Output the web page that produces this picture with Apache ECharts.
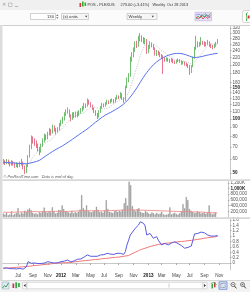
<!DOCTYPE html>
<html><head><meta charset="utf-8">
<script src="https://cdn.jsdelivr.net/npm/echarts@6/dist/echarts.min.js"></script>
<style>html,body{margin:0;padding:0;background:#fff;overflow:hidden}#c{width:250px;height:292px}</style>
</head><body><div id="c"></div><script>
// ---- data (weekly, first week = 2011-05-02) ----
const startDate = '2011-05-02';
const padWeeks = 7;
const open = [57,58,57,58.5,57,56,57.5,56,55,56,55,56.5,57,54,51,55,62,70,78,76,74,72,69,66,72,76,80,78,83,86,84,90,87,85,88,93,96,100,106,110,112,104,100,107,103,108,105,109,112,115,120,118,127,122,118,115,110,106,103,110,116,120,118,122,125,123,126,127,124,130,133,131,138,130,127,150,165,175,215,225,240,262,255,275,285,278,270,275,235,250,262,255,248,228,238,232,226,222,215,212,216,213,210,214,208,206,210,213,209,205,207,203,201,198,182,196,218,245,265,258,262,268,265,258,262,266,258,255,250,256,264];
const close = [58,57,58.5,57,56,57.5,56,55,56,55,56.5,57,54,51,55,62,70,78,76,74,72,69,66,72,76,80,78,83,86,84,90,87,85,88,93,96,100,106,110,112,104,100,107,103,108,105,109,112,115,120,118,127,122,118,115,110,106,103,110,116,120,118,122,125,123,126,127,124,130,133,131,138,130,127,150,165,175,215,225,240,262,255,275,285,278,270,275,235,250,262,255,248,228,238,232,226,222,215,212,216,213,210,214,208,206,210,213,209,205,207,203,201,198,182,196,218,245,265,258,262,268,265,258,262,266,258,255,250,256,264,273];
const low = [56,55.5,56,56,54.5,55,55,53.5,54,53.5,54,55,52.5,49.5,50,54,61,68,73,71,69,66,63,65,70,74,76,77,81,81,83,85,82,84,86,91,94,98,104,107,102,97,99,101,102,102,104,107,110,113,115,117,120,116,112,108,104,100,102,108,114,116,117,120,121,122,124,122,123,128,129,130,128,123,126,148,160,172,208,220,236,248,252,270,268,262,260,230,232,245,250,242,225,224,226,220,216,178,208,209,208,205,207,204,202,203,207,205,200,201,198,196,192,176,180,194,216,242,250,252,256,258,252,253,258,252,248,244,247,252,262];
const high = [60,59,60,59.5,58,59,58.5,57,57.5,57,58,60,58,55,56,63,72,81,80,78,76,73,70,73,78,83,82,85,89,88,93,92,89,90,95,99,103,109,113,116,113,106,109,109,110,110,112,115,118,123,122,130,128,124,120,116,112,108,112,118,123,122,124,128,127,129,130,129,132,136,135,141,139,132,153,170,180,222,235,250,270,272,290,300,292,285,282,278,258,270,266,260,250,242,240,236,230,226,220,220,219,216,218,216,211,213,217,215,212,210,209,206,203,200,199,222,252,290,270,268,285,272,270,268,275,270,262,258,262,268,278];
const ma30 = [57.5,57.4,57.3,57.2,57.1,57.0,57.0,56.9,56.8,56.7,56.6,56.6,56.5,56.4,56.4,56.5,56.8,57.1,57.4,57.7,58.0,58.5,59.0,59.8,60.7,61.6,62.5,63.4,64.3,65.2,66.1,67.0,67.8,68.6,69.4,70.2,71.0,72.0,73.0,74.0,75.0,76.0,77.2,78.4,79.6,80.8,82.0,83.2,84.4,85.6,86.8,88.0,89.6,91.2,92.8,94.4,96.0,97.6,99.2,100.8,102.4,104.0,105.2,106.4,107.6,108.8,110.0,111.4,112.8,114.2,115.6,117.0,119.0,121.0,123.5,126.0,129.0,132.5,136.0,140.0,144.5,149.0,154.0,159.5,165.0,170.5,176.0,181.0,186.0,191.0,195.5,200.0,204.0,207.5,211.0,214.0,217.0,219.5,222.0,224.0,226.0,227.5,229.0,230.0,231.0,231.5,231.8,231.5,230.8,229.8,228.5,227.0,225.5,223.5,221.5,220.0,219.5,219.8,220.3,221.0,222.0,223.0,224.0,225.5,226.5,227.5,228.5,229.5,230.3,231.0,231.63];
const ma10 = [57.5,57.4,57.4,57.3,57.2,57.0,56.9,56.8,56.7,56.6,56.45,56.45,56.0,55.4,55.3,55.75,57.15,59.45,61.45,63.35,64.9,66.1,67.3,69.4,71.5,73.3,74.1,74.6,75.6,76.6,78.4,80.2,82.1,83.7,85.4,87.0,89.2,91.5,93.9,96.7,98.1,99.4,101.6,103.1,104.6,105.5,106.4,107.0,107.5,108.3,109.7,112.4,113.9,115.4,116.1,116.6,116.3,115.4,114.9,114.5,114.7,113.8,113.8,114.5,115.3,116.9,119.0,121.1,123.1,124.8,125.9,127.9,128.7,128.9,131.6,135.5,140.3,149.4,158.9,169.6,182.7,194.4,208.9,224.7,237.5,248.0,258.0,260.0,262.5,264.7,264.0,263.3,258.6,253.9,249.3,244.9,239.6,237.6,233.8,229.2,225.0,221.2,219.8,216.8,214.2,212.6,211.7,211.1,210.4,209.5,208.5,207.6,206.0,203.4,202.4,203.2,206.4,212.0,217.3,222.8,229.3,235.7,241.7,249.7,256.7,260.7,261.7,260.2,260.0,260.2,260.7];
// volume in thousands of shares
const volumeK = [120,80,150,60,90,200,70,110,140,310,90,160,120,220,180,260,300,240,150,110,130,90,170,140,210,330,180,150,200,160,340,190,120,150,250,230,410,280,200,180,160,140,220,130,170,150,190,260,770,310,240,410,220,180,160,200,230,360,250,170,190,150,230,590,280,180,160,140,200,240,180,220,190,260,480,660,400,1240,1120,380,250,200,280,310,180,150,140,210,170,120,110,160,130,90,150,100,120,180,90,70,80,110,340,90,120,150,100,80,130,200,450,300,700,590,280,220,180,130,150,200,170,120,140,160,110,150,410,130,90,120,160];
const volMaK = [170,168,166,165,165,166,168,170,172,175,176,178,180,182,184,186,188,190,190,189,188,187,186,186,187,188,190,192,194,196,198,200,200,199,198,197,196,195,195,196,198,200,202,205,208,212,215,218,220,222,222,222,221,220,219,218,217,216,215,215,216,217,218,220,222,224,226,228,230,232,234,236,238,240,242,244,246,248,250,250,249,248,246,244,242,240,238,236,234,232,230,228,226,224,222,220,218,216,214,212,210,208,206,204,202,200,198,196,194,192,190,188,186,184,182,181,180,179,178,176,174,172,170,166,162,158,155,152,150,148,146,145];
const indBlue = [-0.19,-0.20,-0.18,-0.20,-0.21,-0.19,-0.21,-0.22,-0.22,-0.21,-0.20,-0.21,-0.23,-0.23,-0.14,0.05,0.04,-0.01,0.02,0.00,0.01,-0.02,-0.04,-0.02,-0.05,0.00,0.03,0.05,0.05,0.02,0.04,0.00,-0.01,0.01,0.03,0.05,0.03,0.07,0.10,0.11,0.06,0.04,0.05,0.08,0.10,0.14,0.12,0.15,0.18,0.22,0.25,0.30,0.27,0.25,0.23,0.25,0.27,0.25,0.28,0.30,0.32,0.31,0.34,0.36,0.34,0.33,0.35,0.32,0.34,0.36,0.35,0.36,0.33,0.32,0.42,0.67,0.85,1.04,1.12,1.08,1.29,1.26,1.41,1.53,1.50,1.48,1.38,1.04,1.08,1.10,1.08,0.92,0.97,0.98,0.85,0.80,0.67,0.65,0.73,0.71,0.67,0.71,0.74,0.77,0.79,0.76,0.72,0.67,0.65,0.61,0.55,0.52,0.58,0.51,0.63,0.85,1.08,1.12,1.10,1.13,1.15,1.16,1.12,1.08,1.04,1.02,1.00,0.99,1.00,0.98,1.0217];
const indRed = [-0.20,-0.20,-0.19,-0.19,-0.18,-0.18,-0.17,-0.17,-0.16,-0.16,-0.15,-0.15,-0.14,-0.14,-0.13,-0.13,-0.12,-0.11,-0.10,-0.10,-0.09,-0.08,-0.08,-0.07,-0.06,-0.06,-0.05,-0.04,-0.04,-0.03,-0.02,-0.02,-0.01,0.00,0.00,0.01,0.01,0.01,0.01,0.01,0.02,0.03,0.03,0.04,0.05,0.06,0.06,0.07,0.08,0.08,0.09,0.10,0.10,0.11,0.12,0.12,0.13,0.14,0.14,0.15,0.16,0.16,0.17,0.18,0.18,0.19,0.20,0.20,0.21,0.22,0.22,0.23,0.24,0.25,0.26,0.27,0.28,0.31,0.34,0.37,0.40,0.43,0.46,0.49,0.51,0.53,0.55,0.57,0.59,0.61,0.63,0.65,0.66,0.67,0.69,0.70,0.71,0.72,0.73,0.74,0.74,0.75,0.76,0.77,0.77,0.78,0.79,0.79,0.80,0.81,0.81,0.82,0.83,0.83,0.84,0.85,0.86,0.87,0.88,0.89,0.90,0.91,0.92,0.93,0.94,0.95,0.96,0.97,0.97,0.98,0.99];
const priceTicks = [50,60,70,80,90,100,110,120,130,140,150,160,180,200,220,240,260,280,300,320];
const volTicksK = [200,400,600,800,1000,1200];
const indTicks = [0,0.2,0.4,0.6,0.8,1,1.2,1.4,1.6];
const monthNames = ['Jan','Feb','Mar','Apr','May','Jun','Jul','Aug','Sep','Oct','Nov','Dec'];
const symbolName = 'POS - PLEXUS';
const periodName = 'Weekly';
const unitsCount = '130';

// ---- build ----
function buildWeeks(start, n) {
  const out = []; const t0 = Date.parse(start + 'T00:00:00Z');
  for (let i = 0; i < n; i++) out.push(new Date(t0 + i * 7 * 86400000).toISOString().slice(0, 10));
  return out;
}
const weeks = buildWeeks(startDate, close.length + padWeeks);
const ohlc = open.map((o, i) => [o, close[i], low[i], high[i]]);
const lastClose = close[close.length - 1];
const prevClose = close[close.length - 2];
const pct = ((lastClose / prevClose - 1) * 100).toFixed(2);
const lastDate = new Date(weeks[close.length - 1] + 'T00:00:00Z');
const dateText = monthNames[lastDate.getUTCMonth()] + ' ' + lastDate.getUTCDate() + ' ' + lastDate.getUTCFullYear();

const FONT = 'Arial';
const LBL = 4.6;
const TF = '3.9px ' + FONT;
const isLabelWeek = (idx, val) => { if (idx < 2) return false; const m = +val.slice(5, 7), d = +val.slice(8, 10); return d <= 7 && m % 2 === 1; };

function xAxisFor(g, show) {
  return {
    type: 'category', gridIndex: g, data: weeks, boundaryGap: true,
    axisLine: { show: show, lineStyle: { color: '#c8c8c8', width: 1 } },
    axisTick: { show: show, interval: isLabelWeek, alignWithLabel: true, length: 2, lineStyle: { color: '#aaa' } },
    axisLabel: {
      show: show, interval: isLabelWeek, margin: 3, fontSize: LBL, fontFamily: FONT, color: '#444',
      formatter: v => { const m = +v.slice(5, 7); return m === 1 ? '{y|' + v.slice(0, 4) + '}' : monthNames[m - 1]; },
      rich: { y: { fontSize: LBL, fontFamily: FONT, fontWeight: 'bold', color: '#111' } }
    },
    splitLine: { show: false }
  };
}
function yAxisBase(g) {
  return {
    gridIndex: g, position: 'right',
    axisLine: { show: true, lineStyle: { color: '#c8c8c8', width: 1 } },
    axisTick: { show: true, length: 1.5, lineStyle: { color: '#aaa' } },
    splitLine: { show: false },
    axisLabel: { margin: 2.5, fontSize: LBL, fontFamily: FONT, color: '#555' }
  };
}
const yPrice = yAxisBase(0);
Object.assign(yPrice, { type: 'log', logBase: 10, min: 46.4, max: 328.6 });
yPrice.axisTick.customValues = priceTicks;
Object.assign(yPrice.axisLabel, {
  customValues: priceTicks,
  formatter: v => (v === 50 || v === 100 || v === 150) ? '{b|' + v + '}' : String(v),
  rich: { b: { fontSize: LBL, fontFamily: FONT, fontWeight: 'bold', color: '#222' } }
});
const yVol = yAxisBase(1);
Object.assign(yVol, { type: 'value', min: 0, max: 1265 });
yVol.axisTick.customValues = volTicksK;
Object.assign(yVol.axisLabel, {
  customValues: volTicksK,
  formatter: v => v >= 1000 ? (v === 1000 ? '{b|' : '') + (v).toLocaleString('en-US') + 'K' + (v === 1000 ? '}' : '') : (v * 1000).toLocaleString('en-US'),
  rich: { b: { fontSize: LBL, fontFamily: FONT, fontWeight: 'bold', color: '#222' } }
});
const yInd = yAxisBase(2);
Object.assign(yInd, { type: 'value', min: -0.26, max: 1.636 });
yInd.axisTick.customValues = indTicks;
Object.assign(yInd.axisLabel, { customValues: indTicks, formatter: v => String(v) });

function endLabel(val, text, color, bg) {
  return {
    silent: true, symbol: 'none', animation: false,
    lineStyle: { opacity: 0 },
    label: { show: true, position: 'end', distance: 1.5, formatter: text, color: color, backgroundColor: bg,
      fontSize: LBL, fontFamily: FONT, padding: [0.5, 1.5, 0, 1.5] },
    data: [{ yAxis: val }]
  };
}

const W = 250;
const chrome = [
  { type: 'rect', shape: { x: 0, y: 0, width: W, height: 10 }, style: { fill: '#f0f0f0' }, z: 10 },
  { type: 'rect', shape: { x: 0, y: 10, width: W, height: 15 }, style: { fill: '#fbfbfb' }, z: 10 },
  { type: 'line', shape: { x1: 0, y1: 25.5, x2: W, y2: 25.5 }, style: { stroke: '#cfcfcf', lineWidth: 1 }, z: 10 },
  { type: 'rect', shape: { x: 0, y: 25, width: 2.5, height: 255 }, style: { fill: '#dcdcdc' }, z: 10 },
  { type: 'text', x: 4, y: 5, style: { text: '✕', fill: '#999', font: '4.5px ' + FONT, align: 'center', verticalAlign: 'middle' }, z: 11 },
  { type: 'rect', shape: { x: 8.5, y: 3, width: 3.5, height: 3.5 }, style: { fill: 'none', stroke: '#aaa', lineWidth: 0.6 }, z: 11 },
  { type: 'line', shape: { x1: 15, y1: 6.5, x2: 18, y2: 6.5 }, style: { stroke: '#999', lineWidth: 0.7 }, z: 11 },
  { type: 'rect', shape: { x: 79.5, y: 3, width: 1.6, height: 4 }, style: { fill: '#e03040' }, z: 11 },
  { type: 'rect', shape: { x: 82, y: 1.5, width: 1.6, height: 5 }, style: { fill: '#30b030' }, z: 11 },
  { type: 'rect', shape: { x: 84.5, y: 2.5, width: 1.6, height: 3.5 }, style: { fill: '#30b030' }, z: 11 },
  { type: 'text', x: 87.5, y: 5, style: { text: symbolName, fill: '#333', font: TF, align: 'left', verticalAlign: 'middle' }, z: 11 },
  { type: 'text', x: 120.5, y: 5, style: { text: lastClose.toFixed(2) + ' (+' + pct + '%)', fill: '#333', font: TF, align: 'left', verticalAlign: 'middle' }, z: 11 },
  { type: 'text', x: 152.5, y: 5, style: { text: periodName, fill: '#333', font: TF, align: 'left', verticalAlign: 'middle' }, z: 11 },
  { type: 'text', x: 167, y: 5, style: { text: dateText, fill: '#333', font: TF, align: 'left', verticalAlign: 'middle' }, z: 11 },
  // units input
  { type: 'rect', shape: { x: 30.5, y: 13.5, width: 25, height: 6 }, style: { fill: '#fff', stroke: '#b5b5b5', lineWidth: 0.6 }, z: 11 },
  { type: 'text', x: 54, y: 16.6, style: { text: unitsCount, fill: '#333', font: '4.2px ' + FONT, align: 'right', verticalAlign: 'middle' }, z: 11 },
  { type: 'polygon', shape: { points: [[56.3, 16], [58.3, 16], [57.3, 14.3]] }, style: { fill: '#666' }, z: 11 },
  { type: 'polygon', shape: { points: [[56.3, 17.2], [58.3, 17.2], [57.3, 18.9]] }, style: { fill: '#666' }, z: 11 },
  { type: 'rect', shape: { x: 61.5, y: 13.5, width: 27, height: 6 }, style: { fill: '#f6f6f6', stroke: '#b5b5b5', lineWidth: 0.6 }, z: 11 },
  { type: 'text', x: 63, y: 16.6, style: { text: '(x) units', fill: '#333', font: '4.2px ' + FONT, align: 'left', verticalAlign: 'middle' }, z: 11 },
  { type: 'polygon', shape: { points: [[85, 15.8], [87.4, 15.8], [86.2, 17.4]] }, style: { fill: '#444' }, z: 11 },
  { type: 'rect', shape: { x: 127, y: 13.5, width: 30, height: 6 }, style: { fill: '#f6f6f6', stroke: '#b5b5b5', lineWidth: 0.6 }, z: 11 },
  { type: 'text', x: 128.5, y: 16.6, style: { text: periodName, fill: '#333', font: '4.2px ' + FONT, align: 'left', verticalAlign: 'middle' }, z: 11 },
  { type: 'polygon', shape: { points: [[151.6, 15.8], [154, 15.8], [152.8, 17.4]] }, style: { fill: '#444' }, z: 11 },
  // chart-style icon
  { type: 'rect', shape: { x: 195, y: 12.3, width: 16.5, height: 8.5 }, style: { fill: '#e6e0f4', stroke: '#b9aede', lineWidth: 0.6 }, z: 11 },
  { type: 'polyline', shape: { points: [[196, 19], [198, 16], [200, 18], [202, 14.5], [204, 17], [206, 15], [208, 16.5], [210.5, 13.5]] }, style: { stroke: '#33aa33', lineWidth: 0.8, fill: 'none' }, z: 12 },
  { type: 'polyline', shape: { points: [[196, 17], [198.5, 19], [201, 16], [203, 19], [205.5, 16.5], [208, 18.5], [210.5, 15.5]] }, style: { stroke: '#dd3355', lineWidth: 0.8, fill: 'none' }, z: 12 },
  { type: 'polyline', shape: { points: [[196, 15], [199, 14], [202, 16.5], [205, 13.5], [210.5, 17.5]] }, style: { stroke: '#5566dd', lineWidth: 0.6, fill: 'none' }, z: 12 },
  // far right icon
  { type: 'rect', shape: { x: 242.5, y: 10.5, width: 9, height: 12, r: 2 }, style: { fill: '#fff', stroke: '#bbb', lineWidth: 0.6 }, z: 11 },
  { type: 'polyline', shape: { points: [[246.5, 21], [247, 17], [246.3, 14], [247.5, 12.5]] }, style: { stroke: '#33aa33', lineWidth: 1, fill: 'none' }, z: 12 },
  { type: 'rect', shape: { x: 248, y: 15.5, width: 1.6, height: 3 }, style: { fill: '#dd3344' }, z: 12 },
  // panel separators
  { type: 'rect', shape: { x: 2.5, y: 179.3, width: 247.5, height: 1.6 }, style: { fill: '#d7d7d7' }, z: 10 },
  { type: 'rect', shape: { x: 2.5, y: 217.3, width: 247.5, height: 1.6 }, style: { fill: '#d7d7d7' }, z: 10 },
  { type: 'text', x: 3.5, y: 176.8, style: { text: '© ProRealTime.com   Data is end of day', fill: '#555', font: 'italic 3.9px ' + FONT, align: 'left', verticalAlign: 'middle' }, z: 11 },
  // bottom toolbar
  { type: 'rect', shape: { x: 0, y: 280, width: W, height: 12 }, style: { fill: '#f3f3f3' }, z: 10 },
  { type: 'line', shape: { x1: 0, y1: 280.5, x2: W, y2: 280.5 }, style: { stroke: '#d0d0d0', lineWidth: 0.8 }, z: 10 },
  { type: 'rect', shape: { x: 2, y: 282, width: 7, height: 7 }, style: { fill: '#dfe9f7', stroke: '#8aa', lineWidth: 0.5 }, z: 11 },
  { type: 'polyline', shape: { points: [[2.5, 288], [4.5, 285.5], [6, 287], [8.5, 283]] }, style: { stroke: '#2a9a3a', lineWidth: 0.9, fill: 'none' }, z: 12 },
  { type: 'rect', shape: { x: 12.5, y: 283.5, width: 1.7, height: 4.5 }, style: { fill: '#cc3344' }, z: 11 },
  { type: 'rect', shape: { x: 15.3, y: 282.3, width: 1.7, height: 6 }, style: { fill: '#33aa44' }, z: 11 },
  { type: 'rect', shape: { x: 18.1, y: 283, width: 1.7, height: 4 }, style: { fill: '#33aa44' }, z: 11 },
  { type: 'rect', shape: { x: 22.5, y: 282.3, width: 4, height: 6.5 }, style: { fill: '#fff', stroke: '#bbb', lineWidth: 0.5 }, z: 11 },
  { type: 'polygon', shape: { points: [[25.6, 284], [25.6, 287], [23.6, 285.5]] }, style: { fill: '#333' }, z: 12 },
  { type: 'rect', shape: { x: 27, y: 282.3, width: 176, height: 6.5 }, style: { fill: '#fff', stroke: '#c4c4c4', lineWidth: 0.6 }, z: 11 },
  { type: 'line', shape: { x1: 168.5, y1: 283.5, x2: 168.5, y2: 287.6 }, style: { stroke: '#ccc', lineWidth: 0.5 }, z: 12 },
  { type: 'line', shape: { x1: 169.5, y1: 283.5, x2: 169.5, y2: 287.6 }, style: { stroke: '#ccc', lineWidth: 0.5 }, z: 12 },
  { type: 'rect', shape: { x: 203, y: 282.3, width: 4, height: 6.5 }, style: { fill: '#fff', stroke: '#bbb', lineWidth: 0.5 }, z: 11 },
  { type: 'polygon', shape: { points: [[204, 284], [204, 287], [206, 285.5]] }, style: { fill: '#333' }, z: 12 },
  { type: 'rect', shape: { x: 211.5, y: 284, width: 1.5, height: 4.5 }, style: { fill: '#33aa44' }, z: 11 },
  { type: 'rect', shape: { x: 214, y: 282.3, width: 1.5, height: 5 }, style: { fill: '#cc3344' }, z: 11 },
  { type: 'polyline', shape: { points: [[211, 283.5], [213.5, 282.5], [216.5, 284.5]] }, style: { stroke: '#33aa44', lineWidth: 0.8, fill: 'none' }, z: 12 },
  { type: 'rect', shape: { x: 219, y: 281.8, width: 8, height: 7.5 }, style: { fill: '#dde6f6', stroke: '#5577cc', lineWidth: 0.7 }, z: 11 },
  { type: 'rect', shape: { x: 220.8, y: 283.5, width: 4.4, height: 4 }, style: { fill: 'none', stroke: '#333', lineWidth: 0.5, lineDash: [0.8, 0.6] }, z: 12 },
  { type: 'circle', shape: { cx: 233, cy: 284.5, r: 2 }, style: { fill: '#fff', stroke: '#444', lineWidth: 0.7 }, z: 11 },
  { type: 'line', shape: { x1: 234.4, y1: 286, x2: 236.4, y2: 288.4 }, style: { stroke: '#444', lineWidth: 1 }, z: 11 },
  { type: 'line', shape: { x1: 232, y1: 284.5, x2: 234, y2: 284.5 }, style: { stroke: '#444', lineWidth: 0.5 }, z: 12 },
  { type: 'circle', shape: { cx: 242.5, cy: 284.5, r: 2 }, style: { fill: '#fff', stroke: '#444', lineWidth: 0.7 }, z: 11 },
  { type: 'line', shape: { x1: 243.9, y1: 286, x2: 245.9, y2: 288.4 }, style: { stroke: '#444', lineWidth: 1 }, z: 11 },
  { type: 'line', shape: { x1: 241.5, y1: 284.5, x2: 243.5, y2: 284.5 }, style: { stroke: '#444', lineWidth: 0.5 }, z: 12 },
  { type: 'line', shape: { x1: 242.5, y1: 283.5, x2: 242.5, y2: 285.5 }, style: { stroke: '#444', lineWidth: 0.5 }, z: 12 }
];

const chart = echarts.init(document.getElementById('c'), null, { renderer: 'canvas' });
chart.setOption({
  animation: false,
  backgroundColor: '#ffffff',
  grid: [
    { left: 2.5, top: 26, width: 227.5, height: 153 },
    { left: 2.5, top: 181, width: 227.5, height: 36 },
    { left: 2.5, top: 219, width: 227.5, height: 51 }
  ],
  xAxis: [xAxisFor(0, false), xAxisFor(1, false), xAxisFor(2, true)],
  yAxis: [yPrice, yVol, yInd],
  graphic: { elements: chrome },
  series: [
    {
      type: 'candlestick', xAxisIndex: 0, yAxisIndex: 0, data: ohlc, barWidth: 1,
      itemStyle: { color: '#8ad88a', color0: '#f58aa4', borderColor: '#4daf4d', borderColor0: '#e0506e', borderWidth: 0.8 },
      markLine: endLabel(lastClose, lastClose.toFixed(2), '#333', '#f2d21c')
    },
    {
      type: 'line', xAxisIndex: 0, yAxisIndex: 0, data: ma10, symbol: 'none',
      lineStyle: { color: '#b0b0b0', width: 0.8, type: [1, 1.5] }
    },
    {
      type: 'line', xAxisIndex: 0, yAxisIndex: 0, data: ma30, symbol: 'none',
      lineStyle: { color: '#5a72ee', width: 1 },
      markLine: endLabel(ma30[ma30.length - 1], ma30[ma30.length - 1].toFixed(2), '#3a5ae8', '#eef1ff')
    },
    {
      type: 'bar', xAxisIndex: 1, yAxisIndex: 1, data: volumeK, barWidth: 1,
      itemStyle: { color: '#a8a8a8', borderColor: '#6a6a6a', borderWidth: 0.3 }
    },
    {
      type: 'line', xAxisIndex: 1, yAxisIndex: 1, data: volMaK, symbol: 'none',
      lineStyle: { color: '#f08a8a', width: 0.9 },
      markLine: endLabel(volMaK[volMaK.length - 1], Math.round(volMaK[volMaK.length - 1] * 1000).toLocaleString('en-US'), '#e04848', '#f4f4f4')
    },
    {
      type: 'line', xAxisIndex: 2, yAxisIndex: 2, data: indRed, symbol: 'none',
      lineStyle: { color: '#f07878', width: 1 }
    },
    {
      type: 'line', xAxisIndex: 2, yAxisIndex: 2, data: indBlue, symbol: 'none',
      lineStyle: { color: '#5a5ae0', width: 1 },
      markLine: endLabel(indBlue[indBlue.length - 1], String(indBlue[indBlue.length - 1]), '#3a4ae0', '#e8ebff')
    }
  ]
});
</script></body></html>
